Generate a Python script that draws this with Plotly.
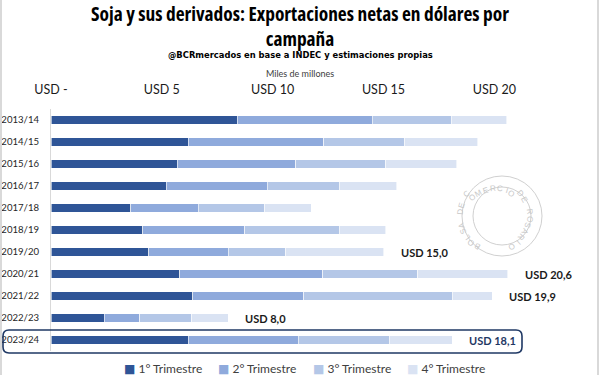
import math
import plotly.graph_objects as go

campaigns = ["2013/14", "2014/15", "2015/16", "2016/17", "2017/18", "2018/19",
             "2019/20", "2020/21", "2021/22", "2022/23", "2023/24"]
q1 = [8.4, 6.2, 5.7, 5.2, 3.6, 4.15, 4.4, 5.8, 6.4, 2.4, 6.2]
q2 = [6.1, 6.1, 5.35, 4.55, 3.05, 4.6, 3.6, 6.45, 5.0, 1.6, 4.95]
q3 = [3.55, 3.65, 4.05, 3.25, 3.0, 4.25, 2.6, 4.3, 6.7, 2.35, 4.1]
q4 = [2.5, 3.3, 3.2, 2.6, 2.1, 2.1, 4.4, 4.05, 1.8, 1.65, 2.85]
series_names = ["1° Trimestre", "2° Trimestre", "3° Trimestre", "4° Trimestre"]
colors = ["#2F5597", "#8FAADC", "#B4C7E7", "#DAE3F3"]
labelled = ["2019/20", "2020/21", "2021/22", "2022/23", "2023/24"]
highlight = "2023/24"
tick_vals = [0, 5, 10, 15, 20]
tick_text = ["USD -", "USD 5", "USD 10", "USD 15", "USD 20"]

W, H = 600, 375
ML, MR, MT, MB = 51, 17, 109, 24
PW, PH = W - ML - MR, H - MT - MB
XMAX = 24.0
BODY = "Lato, Liberation Sans, sans-serif"

fig = go.Figure()
for name, vals, col in zip(series_names, [q1, q2, q3, q4], colors):
    fig.add_trace(go.Bar(
        y=campaigns, x=vals, name=name, orientation="h",
        marker=dict(color=col, line=dict(color="white", width=0.6)),
        width=0.37, hoverinfo="skip", showlegend=False,
    ))

totals = [a + b + c + d for a, b, c, d in zip(q1, q2, q3, q4)]
for cat, tot in zip(campaigns, totals):
    if cat in labelled:
        txt = "USD " + f"{tot:.1f}".replace(".", ",")
        fig.add_annotation(
            x=tot, y=cat, xref="x", yref="y", text=txt, showarrow=False,
            xanchor="left", xshift=15,
            font=dict(family=BODY, size=11,
                      color="#1F3864" if cat == highlight else "#1a1a1a",
                      weight="bold"),
        )

def px2paper_x(px):
    return (px - ML) / PW

def px2paper_y(py):
    return (H - MB - py) / PH

# legend (drawn as text entries)
leg_x0, leg_step = 122, 94.3
for i, (name, col) in enumerate(zip(series_names, colors)):
    fig.add_annotation(
        x=px2paper_x(leg_x0 + leg_step * i), y=px2paper_y(368), xref="paper", yref="paper",
        xanchor="left", yanchor="middle", showarrow=False,
        text=f"<span style='color:{col};font-family:DejaVu Sans'>■</span> {name}",
        font=dict(family=BODY, size=12, color="#404040"))

# highlight rounded box
x0, x1 = px2paper_x(3), px2paper_x(522)
y0, y1 = px2paper_y(353), px2paper_y(330)
rx, ry = 6 / PW, 6 / PH
path = (f"M {x0+rx},{y1} L {x1-rx},{y1} Q {x1},{y1} {x1},{y1-ry} "
        f"L {x1},{y0+ry} Q {x1},{y0} {x1-rx},{y0} L {x0+rx},{y0} "
        f"Q {x0},{y0} {x0},{y0+ry} L {x0},{y1-ry} Q {x0},{y1} {x0+rx},{y1} Z")
fig.add_shape(type="path", path=path, xref="paper", yref="paper",
              line=dict(color="#1F3864", width=1.6))

# watermark seal
cx, cy = 502, 216
for r in (40, 29):
    fig.add_shape(type="circle", xref="paper", yref="paper",
                  x0=px2paper_x(cx - r), x1=px2paper_x(cx + r),
                  y0=px2paper_y(cy + r), y1=px2paper_y(cy - r),
                  line=dict(color="#d0d0d0", width=1), layer="below")
seal = "BOLSA DE COMERCIO DE ROSARIO"
a_start, a_end = 240, -60
n = len(seal)
for i, ch in enumerate(seal):
    if ch == " ":
        continue
    ang = a_start + (a_end - a_start) * i / (n - 1)
    rad = math.radians(ang)
    px = cx + 34.5 * math.cos(rad)
    py = cy - 34.5 * math.sin(rad)
    fig.add_annotation(x=px2paper_x(px), y=px2paper_y(py), xref="paper", yref="paper",
                       text=ch, showarrow=False, textangle=90 - ang,
                       font=dict(family="Liberation Sans, sans-serif", size=8, color="#c8c8c8"))

# page side borders
for bx in (1, 598):
    fig.add_shape(type="line", xref="paper", yref="paper",
                  x0=px2paper_x(bx), x1=px2paper_x(bx), y0=px2paper_y(0), y1=px2paper_y(375),
                  line=dict(color="#d9d9d9", width=2))

cond = "font-stretch:75%"
title_lines = ["Soja y sus derivados: Exportaciones netas en dólares por", "campaña"]
fig.add_annotation(x=px2paper_x(300), y=px2paper_y(25.5), xref="paper", yref="paper",
                   yanchor="middle", xanchor="center", showarrow=False,
                   text="<br>".join(f"<span style='{cond}'>{t}</span>" for t in title_lines),
                   font=dict(family="Open Sans, sans-serif", size=19.4, color="#000000",
                             weight="bold"))
fig.add_annotation(x=px2paper_x(300), y=px2paper_y(54.5), xref="paper", yref="paper",
                   showarrow=False, yanchor="middle",
                   text="@BCRmercados en base a INDEC y estimaciones propias",
                   font=dict(family="DejaVu Sans Condensed, sans-serif", size=9.3,
                             color="#000000", weight="bold"))
fig.add_annotation(x=px2paper_x(300), y=px2paper_y(73), xref="paper", yref="paper",
                   showarrow=False, yanchor="middle", text="Miles de millones",
                   font=dict(family=BODY, size=9, color="#404040"))

fig.update_layout(
    width=W, height=H, barmode="stack",
    margin=dict(l=ML, r=MR, t=MT, b=MB, pad=0, autoexpand=False),
    paper_bgcolor="white", plot_bgcolor="white",
    showlegend=False,
    font=dict(family=BODY),
)
fig.update_xaxes(side="top", range=[0, XMAX], tickvals=tick_vals, ticktext=tick_text,
                 showgrid=False, zeroline=False, showline=False, ticks="", tickangle=0,
                 automargin=False,
                 tickfont=dict(family=BODY, size=12.5, color="#1a1a1a"), ticklabelstandoff=12)
fig.update_yaxes(autorange="reversed", showgrid=False, showline=True, linecolor="#d9d9d9",
                 linewidth=1, ticks="", tickfont=dict(family=BODY, size=9.6, color="#262626"),
                 automargin=False, ticklabelstandoff=9)

fig.write_html("out.html", config={"displayModeBar": False},
               post_script="document.body.style.margin='0';document.body.style.overflow='hidden';")
